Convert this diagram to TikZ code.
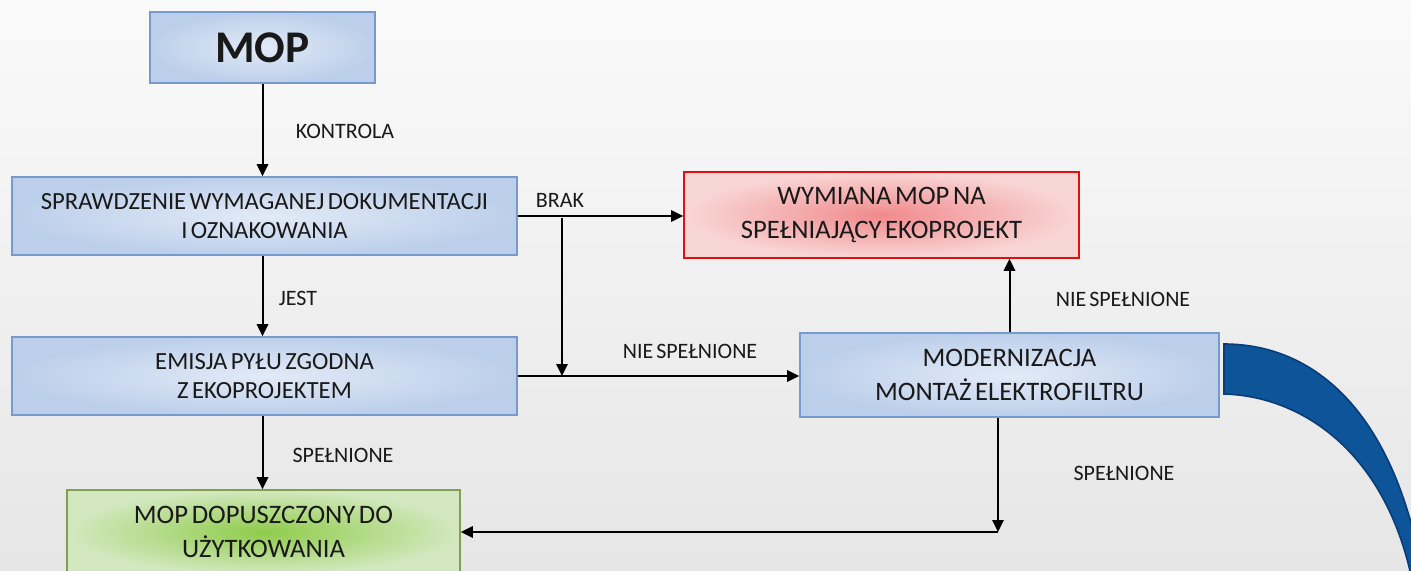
\documentclass[tikz,border=0pt]{standalone}
\usepackage{fontspec}
\setmainfont{Carlito}[WordSpace=0.6]
\usetikzlibrary{arrows.meta, positioning}
\definecolor{bgtop}{HTML}{FAFAFA}
\definecolor{bgbot}{HTML}{E6E6E6}
\definecolor{boxline}{HTML}{7799CC}
\definecolor{boxin}{HTML}{E2EAF7}
\definecolor{boxout}{HTML}{BCCFEA}
\definecolor{redline}{HTML}{E01010}
\definecolor{redin}{HTML}{F08A8C}
\definecolor{redout}{HTML}{F9D6D6}
\definecolor{grnline}{HTML}{7FA050}
\definecolor{grnin}{HTML}{8FCC4A}
\definecolor{grnout}{HTML}{D3E8C0}
\definecolor{bend}{HTML}{0D5499}
\definecolor{bendline}{HTML}{0A3C78}

\begin{document}
\begin{tikzpicture}[x=0.75pt, y=-0.75pt, >={Triangle[length=9pt,width=8.5pt]},
    every node/.style={font=\fontsize{18.5}{22}\selectfont, align=center, text=black!90},
    box/.style={draw=boxline, line width=1.2pt, inner color=boxin, outer color=boxout,
                minimum width=378.75pt, minimum height=58.5pt},
    bigtxt/.style={font=\fontsize{20}{26}\selectfont},
    lbl/.style={font=\fontsize{16.5}{18}\selectfont},
    arr/.style={->, line width=1.5pt}]
  % background
  \shade[top color=bgtop, bottom color=bgbot] (0,0) rectangle (1411,571);
  \useasboundingbox (0,0) rectangle (1411,571);

  % boxes
  \node[box, minimum width=168.75pt, minimum height=53.25pt,
        font=\fontsize{34}{34}\bfseries] (mop) at (262.5,47.5) {MOP};
  \node[box] (chk) at (264.5,216) {SPRAWDZENIE WYMAGANEJ DOKUMENTACJI\\I OZNAKOWANIA};
  \node[box, bigtxt, draw=redline, inner color=redin, outer color=redout,
        minimum width=296.25pt, minimum height=64.5pt] (swap) at (881.5,215) {WYMIANA MOP NA\\SPEŁNIAJĄCY EKOPROJEKT};
  \node[box] (emi) at (264.5,376) {EMISJA PYŁU ZGODNA\\Z EKOPROJEKTEM};
  \node[box, bigtxt, minimum width=314.25pt, minimum height=63pt] (mod) at (1009.5,375) {MODERNIZACJA\\MONTAŻ ELEKTROFILTRU};
  \begin{scope}
    \clip (0,0) rectangle (1411,571);
    \node[box, bigtxt, draw=grnline, inner color=grnin, outer color=grnout,
          minimum width=294.75pt, minimum height=63pt] (grn) at (263.5,532) {MOP DOPUSZCZONY DO\\UŻYTKOWANIA};
    % big curved arrow
    \filldraw[fill=bend, draw=bendline, line width=1.2pt]
      (1224,344) .. controls (1320,344) and (1400,420) .. (1425,590)
      -- (1412,580) .. controls (1385,450) and (1300,396) .. (1224,394) -- cycle;
  \end{scope}

  % connectors
  \coordinate (brk) at (562,218);
  \coordinate (ok) at (998,532);
  \draw[arr] (mop.south) -- (mop.south |- chk.north);
  \draw[arr] (chk.south -| mop.south) -- (mop.south |- emi.north);
  \draw[arr] (chk.east) -- (chk.east -| swap.west);
  \draw[arr] (brk) -- (brk |- emi.east);
  \draw[arr] (emi.east) -- (emi.east -| mod.west);
  \draw[arr] (mod.north) -- (mod.north |- swap.south);
  \draw[arr] (mod.south -| ok) -- (ok);
  \draw[arr] (ok) -- (ok -| grn.east);
  \draw[arr] (emi.south -| mop.south) -- (mop.south |- grn.north);

  % labels
  \node[lbl] (kon) at (345,131) {KONTROLA};
  \node[lbl] (jes) at (298,298) {JEST};
  \node[lbl] (bra) at (560,200) {BRAK};
  \node[lbl] (nie1) at (690,351) {NIE SPEŁNIONE};
  \node[lbl] (nie2) at (1123,299) {NIE SPEŁNIONE};
  \node[lbl] (spe1) at (343,455) {SPEŁNIONE};
  \node[lbl] (spe2) at (1124,473) {SPEŁNIONE};
\end{tikzpicture}
\end{document}
